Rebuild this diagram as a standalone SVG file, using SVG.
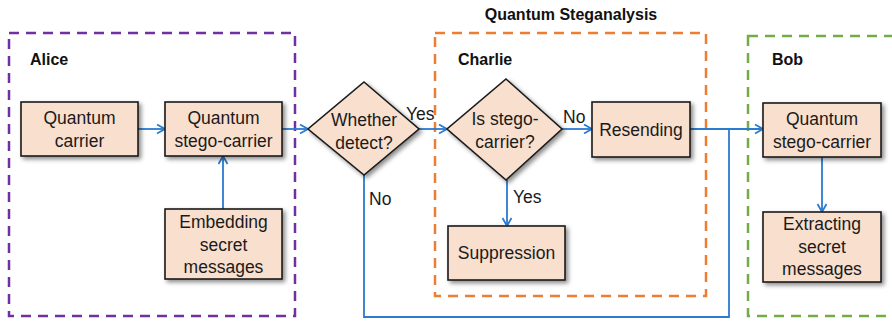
<svg xmlns="http://www.w3.org/2000/svg" width="892" height="321" viewBox="0 0 892 321">
<style>
.box{fill:#F9DFCE;stroke:#1a1a1a;stroke-width:1.6;filter:url(#sh)}
.t{font-family:"Liberation Sans",Arial,sans-serif;font-size:17.5px;fill:#1a1a1a;text-anchor:middle}
.lbl{font-family:"Liberation Sans",Arial,sans-serif;font-size:17.5px;fill:#1a1a1a}
.b{font-family:"Liberation Sans",Arial,sans-serif;font-size:16px;font-weight:bold;fill:#111}
.reg{fill:none;stroke-width:2.5;stroke-dasharray:10,7}
.c{fill:none;stroke:#2B7BD0;stroke-width:1.8}
.a{marker-end:url(#ah)}
</style>
<defs>
<filter id="sh" x="-20%" y="-20%" width="150%" height="150%">
<feDropShadow dx="2.5" dy="2.5" stdDeviation="2" flood-color="#000" flood-opacity="0.45"/>
</filter>
<marker id="ah" markerUnits="userSpaceOnUse" markerWidth="12" markerHeight="12" refX="9" refY="5" orient="auto">
<path d="M1,0.5 L9,5 L1,9.5" fill="none" stroke="#2B7BD0" stroke-width="1.8"/>
</marker>
</defs>

<g id="regions">
<rect x="9" y="33" width="286" height="283" class="reg" stroke="#7030A0"/>
<rect x="435" y="33" width="271" height="263" class="reg" stroke="#ED7D31"/>
<rect x="748" y="36" width="150" height="280" class="reg" stroke="#70AD47"/>
<text x="30" y="65" class="b">Alice</text>
<text x="458" y="65" class="b">Charlie</text>
<text x="772" y="65" class="b">Bob</text>
<text x="571" y="20" class="b" text-anchor="middle">Quantum Steganalysis</text>
</g>

<g id="connectors">
<line x1="138" y1="129" x2="165" y2="129" class="c a"/>
<line x1="223" y1="209" x2="223" y2="156" class="c a"/>
<line x1="282" y1="129" x2="308" y2="129" class="c a"/>
<line x1="419" y1="129" x2="447" y2="129" class="c a"/>
<line x1="562" y1="129" x2="592" y2="129" class="c a"/>
<line x1="507" y1="180" x2="507" y2="226" class="c a"/>
<line x1="690" y1="129" x2="763" y2="129" class="c a"/>
<polyline points="364,175 364,317 729,317 729,129" class="c"/>
<line x1="822" y1="157" x2="822" y2="212" class="c a"/>
<text x="406" y="120" class="lbl">Yes</text>
<text x="563" y="123" class="lbl">No</text>
<text x="369" y="205" class="lbl">No</text>
<text x="513" y="203" class="lbl">Yes</text>
</g>

<g id="quantum-carrier">
<rect x="21" y="102" width="117" height="54" class="box"/>
<text x="79.5" y="124" class="t">Quantum</text>
<text x="79.5" y="147" class="t">carrier</text>
</g>
<g id="alice-stego-carrier">
<rect x="165" y="102" width="117" height="54" class="box"/>
<text x="223.5" y="124" class="t">Quantum</text>
<text x="223.5" y="147" class="t">stego-carrier</text>
</g>
<g id="embedding">
<rect x="165" y="209" width="117" height="70" class="box"/>
<text x="223.5" y="228" class="t">Embedding</text>
<text x="223.5" y="251" class="t">secret</text>
<text x="223.5" y="273" class="t">messages</text>
</g>
<g id="whether-detect">
<polygon points="364,82 419,129 364,175 308,129" class="box"/>
<text x="364" y="126" class="t">Whether</text>
<text x="364" y="149" class="t">detect?</text>
</g>
<g id="is-stego-carrier">
<polygon points="506,79 562,129 506,180 447,129" class="box"/>
<text x="505" y="125" class="t">Is stego-</text>
<text x="505" y="148" class="t">carrier?</text>
</g>
<g id="resending">
<rect x="592" y="102" width="98" height="55" class="box"/>
<text x="641" y="136" class="t">Resending</text>
</g>
<g id="suppression">
<rect x="448" y="226" width="117" height="54" class="box"/>
<text x="506.5" y="259" class="t">Suppression</text>
</g>
<g id="bob-stego-carrier">
<rect x="763" y="103" width="118" height="54" class="box"/>
<text x="822" y="125" class="t">Quantum</text>
<text x="822" y="148" class="t">stego-carrier</text>
</g>
<g id="extracting">
<rect x="763" y="212" width="118" height="70" class="box"/>
<text x="822" y="230" class="t">Extracting</text>
<text x="822" y="253" class="t">secret</text>
<text x="822" y="275" class="t">messages</text>
</g>
</svg>
